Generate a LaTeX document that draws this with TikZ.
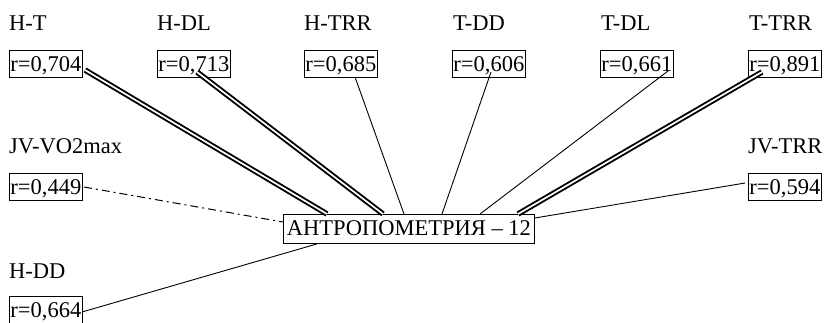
\documentclass[tikz,border=0pt]{standalone}
\usepackage{fontspec}
\setmainfont{Liberation Serif}
\usetikzlibrary{calc}
\tikzset{
  lbl/.style={anchor=base west, inner sep=0pt, font=\fontsize{22.5}{24}\selectfont},
  rbox/.style={draw, line width=0.9pt, anchor=north west, inner xsep=1pt, inner ysep=1pt,
    text height=20.5pt, text depth=4.5pt, font=\fontsize{22.5}{24}\selectfont},
  hub/.style={draw, line width=0.9pt, anchor=north west, inner xsep=3.5pt, inner ysep=1pt,
    text height=20pt, text depth=7pt, font=\fontsize{22.5}{24}\selectfont},
  strong/.style={draw, line width=1.9pt, double=white, double distance=1.7pt},
  weak/.style={draw, line width=0.9pt},
  faint/.style={draw, line width=1pt, dash pattern=on 8pt off 4pt on 2pt off 4pt}
}
\begin{document}
\begin{tikzpicture}[x=1pt, y=-1pt]
\useasboundingbox (0,0) rectangle (828,322);

% pair labels
\node[lbl] (tHT)   at (9,30)   {H-T};
\node[lbl] (tHDL)  at (157,30) {H-DL};
\node[lbl] (tHTRR) at (304,30) {H-TRR};
\node[lbl] (tTDD)  at (453,30) {T-DD};
\node[lbl] (tTDL)  at (601,30) {T-DL};
\node[lbl] (tTTRR) at (749,30) {T-TRR};
\node[lbl] (tJVO)  at (9,153)  {JV-VO2max};
\node[lbl] (tJVT)  at (748,153) {JV-TRR};
\node[lbl] (tHDD)  at (9,278)  {H-DD};

% correlation boxes
\node[rbox] (b704) at (9,50)    {r=0,704};
\node[rbox] (b713) at (157,50)  {r=0,713};
\node[rbox] (b685) at (304,50)  {r=0,685};
\node[rbox] (b606) at (452,50)  {r=0,606};
\node[rbox] (b661) at (600,50)  {r=0,661};
\node[rbox] (b891) at (748,50)  {r=0,891};
\node[rbox] (b449) at (9,173)   {r=0,449};
\node[rbox] (b594) at (748,173) {r=0,594};
\node[rbox] (b664) at (9,296)   {r=0,664};

% central node
\node[hub] (c) at (283,214) {АНТРОПОМЕТРИЯ -- 12};

% connectors
\draw[strong] ($(b704.north west)+(76,20)$) -- ($(c.north west)+(44,0)$);
\draw[strong] ($(b713.north west)+(40,22)$) -- ($(c.north west)+(100,0)$);
\draw[weak]   ($(b685.north west)+(51,27)$) -- ($(c.north west)+(121,0)$);
\draw[weak]   ($(b606.north west)+(39,22)$) -- ($(c.north west)+(159,0)$);
\draw[weak]   ($(b661.north west)+(68,21)$) -- ($(c.north west)+(197,0)$);
\draw[strong] ($(b891.north west)+(14,22)$) -- ($(c.north west)+(235,0)$);
\draw[faint]  ($(b449.north west)+(75,14)$) -- ($(c.north west)+(0,8)$);
\draw[weak]   ($(b594.north west)+(-3,10)$) -- ($(c.north east)+(0,4)$);
\draw[weak]   ($(b664.north west)+(73,16)$) -- ($(c.south west)+(34,0)$);
\end{tikzpicture}
\end{document}
